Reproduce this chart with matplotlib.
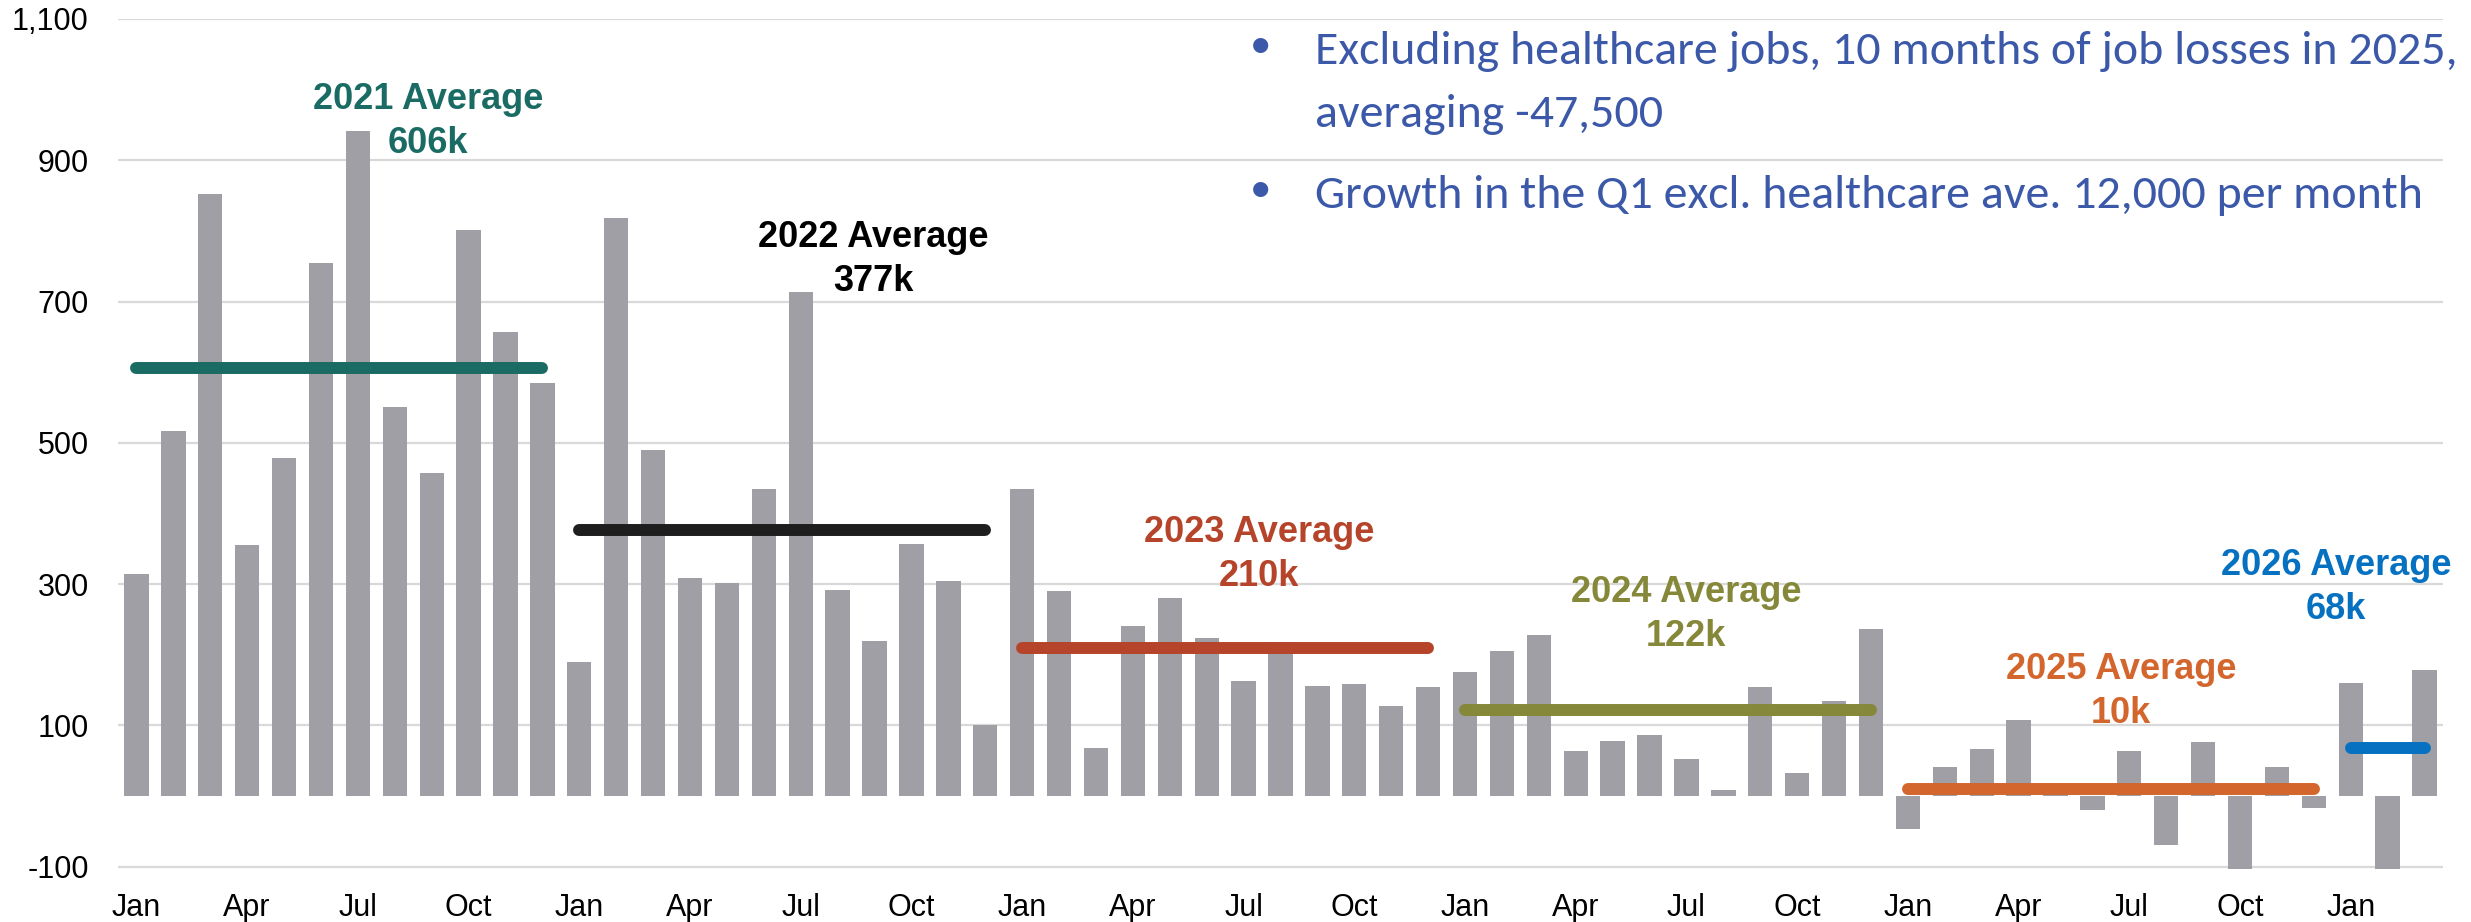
import numpy as np
import matplotlib
matplotlib.use("Agg")
import matplotlib.pyplot as plt
from matplotlib import font_manager

# Monthly payroll change (thousands)
jobs_2021 = [315, 517, 852, 355, 478, 755, 942, 551, 457, 801, 657, 585]
jobs_2022 = [190, 818, 490, 308, 301, 434, 714, 291, 220, 357, 304, 100]
jobs_2023 = [434, 290, 68, 241, 280, 224, 163, 218, 156, 159, 127, 154]
jobs_2024 = [175, 206, 228, 64, 78, 87, 53, 9, 155, 33, 134, 237]
jobs_2025 = [-47, 41, 67, 107, 10, -20, 64, -69, 76, -103, 41, -17]
jobs_2026 = [160, -103, 178]

years = [2021, 2022, 2023, 2024, 2025, 2026]
avg_values = [606, 377, 210, 122, 10, 68]
avg_texts = ["606k", "377k", "210k", "122k", "10k", "68k"]
avg_colors = ["#1B6B65", "#1E1E1E", "#B5442A", "#858739", "#D3662D", "#0671C1"]
label_colors = ["#1B6B65", "#000000", "#B5442A", "#858739", "#D3662D", "#0671C1"]

month_names = ["Jan", "Feb", "Mar", "Apr", "May", "Jun",
               "Jul", "Aug", "Sep", "Oct", "Nov", "Dec"]

ytick_vals = [-100, 100, 300, 500, 700, 900, 1100]
ytick_labels = ["-100", "100", "300", "500", "700", "900", "1,100"]

bullet_lines = [
    "Excluding healthcare jobs, 10 months of job losses in 2025,",
    "averaging -47,500",
    "Growth in the Q1 excl. healthcare ave. 12,000 per month",
]

BAR_COLOR = "#A09FA5"
GRID_COLOR = "#D9D9D9"
TEXT_BLUE = "#3B59A8"

# label placement: (category index, value of first baseline)
label_pos = [(7.9, 973), (19.96, 777), (30.42, 359), (41.99, 274), (53.78, 165), (59.6, 313)]


def pick_font(candidates, fallback="DejaVu Sans"):
    names = {f.name for f in font_manager.fontManager.ttflist}
    for c in candidates:
        if c in names:
            return c
    return fallback


NARROW = pick_font(["Liberation Sans Narrow", "Arial Narrow", "Liberation Sans"])
BODY = pick_font(["Carlito", "Calibri", "Lato", "Open Sans"])

W, H, DPI = 2471, 922, 100
fig = plt.figure(figsize=(W / DPI, H / DPI), dpi=DPI)
ax = fig.add_axes([118 / W, 1 - 869.5 / H, (2443 - 118) / W, (869.5 - 19) / H])

series = [jobs_2021, jobs_2022, jobs_2023, jobs_2024, jobs_2025, jobs_2026]
values = [v for s in series for v in s]
x = np.arange(len(values))
ax.bar(x, values, width=0.66, color=BAR_COLOR, zorder=2)

ax.set_xlim(-0.5, len(values) - 0.5)
ax.set_ylim(-104, 1100)
ax.set_yticks(ytick_vals)
ax.set_yticklabels(ytick_labels)
ax.grid(axis="y", color=GRID_COLOR, lw=1.6, zorder=0)
ax.set_axisbelow(True)
for sp in ax.spines.values():
    sp.set_visible(False)

months = [month_names[i % 12] for i in range(len(values))]
ax.set_xticks(x[::3])
ax.set_xticklabels(months[::3])
ax.tick_params(axis="both", length=0, labelsize=22)
ax.tick_params(axis="x", pad=17)
ax.tick_params(axis="y", pad=21)
for lab in ax.get_xticklabels() + ax.get_yticklabels():
    lab.set_family(NARROW)

# yearly average lines and labels
start = 0
for yr, s, avg, txt, c, lc, (lx, ly) in zip(years, series, avg_values, avg_texts,
                                             avg_colors, label_colors, label_pos):
    end = start + len(s) - 1
    ax.plot([start, end], [avg, avg], color=c, lw=8.6,
            solid_capstyle="round", zorder=3)
    ax.text(lx, ly, f"{yr} Average", ha="center", va="baseline", fontsize=26,
            fontweight="bold", color=lc, family=NARROW, zorder=4)
    ax.text(lx, ly - 62.3, txt, ha="center", va="baseline", fontsize=26,
            fontweight="bold", color=lc, family=NARROW, zorder=4)
    start = end + 1

# bullet notes, sized so the first line spans the same width as the original
baselines = [64.3, 126.7, 208]
texts = []
for line, b in zip(bullet_lines, baselines):
    t = fig.text(1315 / W, 1 - b / H, line, ha="left", va="baseline",
                 fontsize=30, color=TEXT_BLUE, family=BODY)
    texts.append(t)
renderer = fig.canvas.get_renderer()
w1 = texts[0].get_window_extent(renderer).width
fs = 30 * 1140 / w1
for t in texts:
    t.set_fontsize(fs)

for b in [64.3, 208]:
    fig.text(1261 / W, 1 - (b - 17.6) / H, "\u2022", ha="center", va="center",
             fontsize=fs * 0.9, color=TEXT_BLUE, family=BODY)

fig.savefig("out.png", dpi=DPI)
